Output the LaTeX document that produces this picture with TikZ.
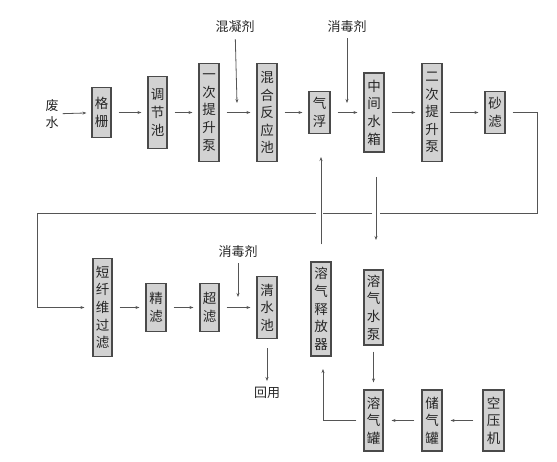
\documentclass[tikz,border=0pt]{standalone}
\usepackage{fontspec}
\newfontfamily\cjk{Noto Sans CJK SC}
\usetikzlibrary{arrows.meta}
\definecolor{boxfill}{HTML}{D2D2D2}
\definecolor{boxline}{HTML}{4A4A4A}
\definecolor{txt}{HTML}{262626}
\definecolor{arr}{HTML}{555555}
\begin{document}
\begin{tikzpicture}[x=1pt,y=-1pt,
  box/.style={draw=boxline, line width=1.1pt, fill=boxfill, inner sep=0pt, align=center,
    text=txt, font=\cjk\fontsize{13.5}{17.6}\selectfont},
  lab/.style={inner sep=0pt, align=center, text=txt, font=\cjk\fontsize{13}{17}\selectfont},
  conn/.style={draw=arr, line width=0.8pt, -{Stealth[length=4pt,width=3pt]}},
  gapped/.style={shorten <=7pt, shorten >=6pt}]
\useasboundingbox (0,0) rectangle (557,462);
% top row
\node[lab] (fs) at (52,114) {废\\水};
\node[box, minimum width=19pt, minimum height=50pt] (gz) at (101.5,112.5) {格\\栅};
\node[box, minimum width=19pt, minimum height=72pt] (tj) at (157.5,112.5) {调\\节\\池};
\node[box, minimum width=20pt, minimum height=98pt] (ts1) at (209,112.5) {一\\次\\提\\升\\泵};
\node[box, minimum width=20pt, minimum height=98pt] (hh) at (267,112.5) {混\\合\\反\\应\\池};
\node[box, minimum width=21pt, minimum height=42pt] (qf) at (319.5,112.5) {气\\浮};
\node[box, minimum width=20pt, minimum height=79pt] (zj) at (374,112.5) {中\\间\\水\\箱};
\node[box, minimum width=20pt, minimum height=98pt] (ts2) at (432,112.5) {二\\次\\提\\升\\泵};
\node[box, minimum width=20pt, minimum height=42pt] (sl) at (495,112.5) {砂\\滤};
\node[lab] (hnj) at (235,27) {混凝剂};
\node[lab] (xdj1) at (347,27) {消毒剂};
\coordinate (hnjE) at (237,103);
\coordinate (xdj1E) at (347,103);
% bottom row
\node[box, minimum width=19pt, minimum height=98pt] (dx) at (102.5,307.5) {短\\纤\\维\\过\\滤};
\node[box, minimum width=20pt, minimum height=48pt] (jl) at (156,307.5) {精\\滤};
\node[box, minimum width=19pt, minimum height=48pt] (cl) at (209.5,307.5) {超\\滤};
\node[box, minimum width=20pt, minimum height=62pt] (qs) at (267,307.5) {清\\水\\池};
\node[box, minimum width=20pt, minimum height=94pt] (sf) at (321,309) {溶\\气\\释\\放\\器};
\node[box, minimum width=19pt, minimum height=75pt] (sb) at (373.5,307.5) {溶\\气\\水\\泵};
\node[box, minimum width=19pt, minimum height=61pt] (rg) at (373.5,420.5) {溶\\气\\罐};
\node[box, minimum width=20pt, minimum height=61pt] (cg) at (432,420.5) {储\\气\\罐};
\node[box, minimum width=21pt, minimum height=61pt] (ky) at (493.5,420.5) {空\\压\\机};
\node[lab] (xdj2) at (238,252) {消毒剂};
\node[lab] (hy) at (267,393) {回用};
\coordinate (xdj2E) at (238,297);
% top row connectors
\draw[conn, shorten <=4pt, shorten >=5pt] (fs) -- (gz);
\draw[conn, gapped] (gz) -- (tj);
\draw[conn, gapped] (tj) -- (ts1);
\draw[conn, gapped] (ts1) -- (hh);
\draw[conn, gapped] (hh) -- (qf);
\draw[conn, gapped] (qf) -- (zj);
\draw[conn, gapped] (zj) -- (ts2);
\draw[conn, gapped] (ts2) -- (sl);
\draw[conn, shorten <=6pt] (hnj) -- (hnjE);
\draw[conn, shorten <=5pt] (xdj1) -- (xdj1E);
% return line from sand filter to short-fibre filter
\coordinate (c1) at (537,112.5);
\coordinate (c2) at (537,213);
\coordinate (g1) at (380,213);
\coordinate (g2) at (372,213);
\coordinate (g3) at (323,213);
\coordinate (g4) at (316,213);
\coordinate (c3) at (37,213);
\coordinate (c4) at (37,307.5);
\draw[conn, shorten >=8pt] ([xshift=7pt]sl.east) -- (c1) -- (c2) -- (g1) (g2) -- (g3) (g4) -- (c3) -- (c4) -- (dx);
% bottom row connectors
\draw[conn, gapped] (dx) -- (jl);
\draw[conn, gapped] (jl) -- (cl);
\draw[conn, gapped] (cl) -- (qs);
\draw[conn, shorten <=5pt] (xdj2) -- (xdj2E);
\draw[conn, shorten <=9pt, shorten >=6pt] (qs) -- (hy);
% air dissolving loop
\coordinate (v1) at (321,157);
\draw[conn, shorten <=17pt] (sf) -- (v1);
\coordinate (v2a) at (376,177);
\coordinate (v2b) at (376,240);
\draw[conn] (v2a) -- (v2b);
\draw[conn, shorten <=6pt, shorten >=7pt] (sb) -- (rg);
\draw[conn, shorten <=9pt, shorten >=8pt] (ky) -- (cg);
\draw[conn, shorten <=7pt, shorten >=8pt] (cg) -- (rg);
\coordinate (r1) at (323,420.5);
\coordinate (r2) at (323,369);
\draw[conn, shorten <=7pt] (rg) -- (r1) -- (r2);
\end{tikzpicture}
\end{document}
